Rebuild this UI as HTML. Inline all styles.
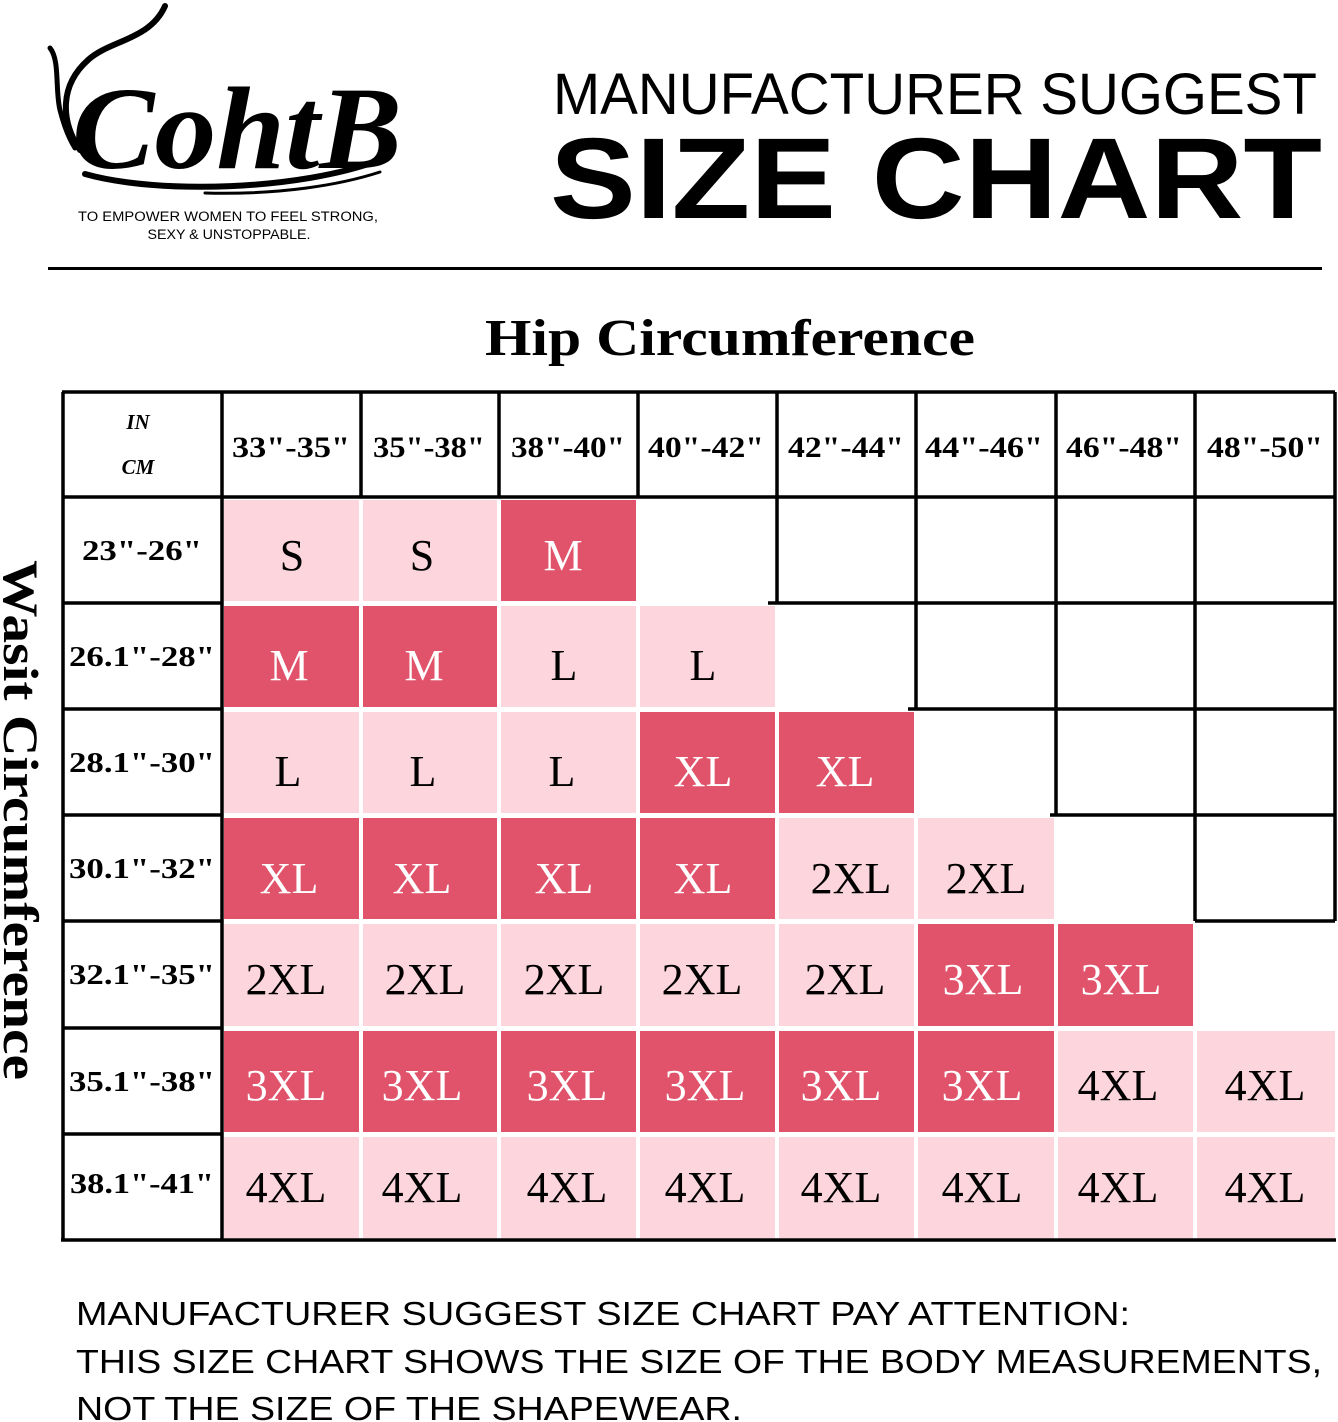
<!DOCTYPE html>
<html><head><meta charset="utf-8"><style>
html,body{margin:0;padding:0;background:#fff;}
svg{display:block;}
</style></head><body>
<svg width="1338" height="1422" viewBox="0 0 1338 1422" xmlns="http://www.w3.org/2000/svg">
<rect width="1338" height="1422" fill="#fff"/>
<!-- logo -->
<g fill="none" stroke="#000" stroke-linecap="round">
<path d="M165 6 C150 40 110 40 88 60 C60 85 60 120 80 150" stroke-width="6"/>
<path d="M50 48 C60 60 55 90 60 110 C65 130 70 140 75 148" stroke-width="5"/>
<path d="M85 174 C160 195 300 190 380 160" stroke-width="6"/>
<path d="M205 193 C280 195 340 185 380 172" stroke-width="3"/>
</g>
<text x="72" y="168" font-family="Liberation Serif, serif" font-style="italic" font-weight="bold" font-size="118" textLength="330" lengthAdjust="spacingAndGlyphs">CohtB</text>
<text x="228" y="221" text-anchor="middle" font-family="Liberation Sans, sans-serif" font-size="13.5" textLength="300" lengthAdjust="spacingAndGlyphs">TO EMPOWER WOMEN TO FEEL STRONG,</text>
<text x="229" y="239" text-anchor="middle" font-family="Liberation Sans, sans-serif" font-size="13.5" textLength="163" lengthAdjust="spacingAndGlyphs">SEXY &amp; UNSTOPPABLE.</text>
<!-- title -->
<text x="553" y="114" font-family="Liberation Sans, sans-serif" font-size="58" textLength="764" lengthAdjust="spacingAndGlyphs">MANUFACTURER SUGGEST</text>
<text x="550" y="218" font-family="Liberation Sans, sans-serif" font-weight="bold" font-size="115" textLength="772" lengthAdjust="spacingAndGlyphs">SIZE CHART</text>
<rect x="48" y="267" width="1274" height="3" fill="#000"/>
<text x="730" y="355" text-anchor="middle" font-family="Liberation Serif, serif" font-weight="bold" font-size="52" textLength="490" lengthAdjust="spacingAndGlyphs">Hip Circumference</text>
<text transform="translate(4,820) rotate(90)" text-anchor="middle" font-family="Liberation Serif, serif" font-weight="bold" font-size="50" textLength="520" lengthAdjust="spacingAndGlyphs">Wasit Circumference</text>

<!-- colored cells -->
<g>
<rect x="224" y="500" width="135" height="101" fill="#fdd6dd"/>
<rect x="363" y="500" width="134" height="101" fill="#fdd6dd"/>
<rect x="501" y="500" width="135" height="101" fill="#e0536b"/>

<rect x="224" y="606" width="135" height="101" fill="#e0536b"/>
<rect x="363" y="606" width="134" height="101" fill="#e0536b"/>
<rect x="501" y="606" width="135" height="101" fill="#fdd6dd"/>
<rect x="640" y="606" width="135" height="101" fill="#fdd6dd"/>

<rect x="224" y="712" width="135" height="101" fill="#fdd6dd"/>
<rect x="363" y="712" width="134" height="101" fill="#fdd6dd"/>
<rect x="501" y="712" width="135" height="101" fill="#fdd6dd"/>
<rect x="640" y="712" width="135" height="101" fill="#e0536b"/>
<rect x="779" y="712" width="135" height="101" fill="#e0536b"/>

<rect x="224" y="818" width="135" height="101" fill="#e0536b"/>
<rect x="363" y="818" width="134" height="101" fill="#e0536b"/>
<rect x="501" y="818" width="135" height="101" fill="#e0536b"/>
<rect x="640" y="818" width="135" height="101" fill="#e0536b"/>
<rect x="779" y="818" width="135" height="101" fill="#fdd6dd"/>
<rect x="918" y="818" width="136" height="101" fill="#fdd6dd"/>

<rect x="224" y="924" width="135" height="102" fill="#fdd6dd"/>
<rect x="363" y="924" width="134" height="102" fill="#fdd6dd"/>
<rect x="501" y="924" width="135" height="102" fill="#fdd6dd"/>
<rect x="640" y="924" width="135" height="102" fill="#fdd6dd"/>
<rect x="779" y="924" width="135" height="102" fill="#fdd6dd"/>
<rect x="918" y="924" width="136" height="102" fill="#e0536b"/>
<rect x="1058" y="924" width="135" height="102" fill="#e0536b"/>

<rect x="224" y="1031" width="135" height="101" fill="#e0536b"/>
<rect x="363" y="1031" width="134" height="101" fill="#e0536b"/>
<rect x="501" y="1031" width="135" height="101" fill="#e0536b"/>
<rect x="640" y="1031" width="135" height="101" fill="#e0536b"/>
<rect x="779" y="1031" width="135" height="101" fill="#e0536b"/>
<rect x="918" y="1031" width="136" height="101" fill="#e0536b"/>
<rect x="1058" y="1031" width="135" height="101" fill="#fdd6dd"/>
<rect x="1197" y="1031" width="138" height="101" fill="#fdd6dd"/>

<rect x="224" y="1137" width="135" height="101" fill="#fdd6dd"/>
<rect x="363" y="1137" width="134" height="101" fill="#fdd6dd"/>
<rect x="501" y="1137" width="135" height="101" fill="#fdd6dd"/>
<rect x="640" y="1137" width="135" height="101" fill="#fdd6dd"/>
<rect x="779" y="1137" width="135" height="101" fill="#fdd6dd"/>
<rect x="918" y="1137" width="136" height="101" fill="#fdd6dd"/>
<rect x="1058" y="1137" width="135" height="101" fill="#fdd6dd"/>
<rect x="1197" y="1137" width="138" height="101" fill="#fdd6dd"/>
</g>

<!-- lines -->
<g stroke="#000" stroke-width="3.5" fill="none">
<path d="M63 392 V1240 M62 392 H1335 M1335 392 V921 M222 392 V1240 M62 497 H1335 M61 1240 H1336"/>
<path d="M361 392 V497 M499 392 V497 M638 392 V497 M777 392 V603 M916 392 V709 M1056 392 V815 M1195 392 V921"/>
<path d="M62 603 H222 M62 709 H222 M62 815 H222 M62 921 H222 M62 1028 H222 M62 1134 H222"/>
<path d="M768 603 H1335 M908 709 H1335 M1050 815 H1335 M1195 921 H1335"/>
</g>

<!-- header texts -->
<g font-family="Liberation Serif, serif" font-weight="bold" fill="#000">
<text x="138" y="429" text-anchor="middle" font-style="italic" font-size="21">IN</text>
<text x="138" y="474" text-anchor="middle" font-style="italic" font-size="21">CM</text>
<g font-size="30" text-anchor="middle">
<text x="291" y="457" textLength="118" lengthAdjust="spacingAndGlyphs">33"-35"</text>
<text x="429" y="457" textLength="112" lengthAdjust="spacingAndGlyphs">35"-38"</text>
<text x="568" y="457" textLength="114" lengthAdjust="spacingAndGlyphs">38"-40"</text>
<text x="706" y="457" textLength="116" lengthAdjust="spacingAndGlyphs">40"-42"</text>
<text x="846" y="457" textLength="116" lengthAdjust="spacingAndGlyphs">42"-44"</text>
<text x="984" y="457" textLength="118" lengthAdjust="spacingAndGlyphs">44"-46"</text>
<text x="1124" y="457" textLength="116" lengthAdjust="spacingAndGlyphs">46"-48"</text>
<text x="1265" y="457" textLength="116" lengthAdjust="spacingAndGlyphs">48"-50"</text>
</g>
<g font-size="29" text-anchor="middle">
<text x="142" y="560" textLength="120" lengthAdjust="spacingAndGlyphs">23"-26"</text>
<text x="142" y="666" textLength="146" lengthAdjust="spacingAndGlyphs">26.1"-28"</text>
<text x="142" y="772" textLength="146" lengthAdjust="spacingAndGlyphs">28.1"-30"</text>
<text x="142" y="878" textLength="146" lengthAdjust="spacingAndGlyphs">30.1"-32"</text>
<text x="142" y="984" textLength="146" lengthAdjust="spacingAndGlyphs">32.1"-35"</text>
<text x="142" y="1091" textLength="146" lengthAdjust="spacingAndGlyphs">35.1"-38"</text>
<text x="142" y="1193" textLength="144" lengthAdjust="spacingAndGlyphs">38.1"-41"</text>
</g>
</g>

<!-- sizes -->
<g font-family="Liberation Serif, serif" font-size="44" text-anchor="middle">
<text x="292" y="570">S</text><text x="422" y="570">S</text><text x="563" y="570" fill="#fff">M</text>
<text x="289" y="680" fill="#fff">M</text><text x="424" y="680" fill="#fff">M</text><text x="564" y="680">L</text><text x="703" y="680">L</text>
<text x="288" y="786">L</text><text x="423" y="786">L</text><text x="562" y="786">L</text><text x="703" y="786" fill="#fff">XL</text><text x="845" y="786" fill="#fff">XL</text>
<text x="289" y="893" fill="#fff">XL</text><text x="422" y="893" fill="#fff">XL</text><text x="564" y="893" fill="#fff">XL</text><text x="703" y="893" fill="#fff">XL</text><text x="851" y="893">2XL</text><text x="986" y="893">2XL</text>
<text x="286" y="994">2XL</text><text x="425" y="994">2XL</text><text x="564" y="994">2XL</text><text x="702" y="994">2XL</text><text x="845" y="994">2XL</text><text x="983" y="994" fill="#fff">3XL</text><text x="1121" y="994" fill="#fff">3XL</text>
<text x="286" y="1100" fill="#fff">3XL</text><text x="422" y="1100" fill="#fff">3XL</text><text x="567" y="1100" fill="#fff">3XL</text><text x="705" y="1100" fill="#fff">3XL</text><text x="841" y="1100" fill="#fff">3XL</text><text x="982" y="1100" fill="#fff">3XL</text><text x="1118" y="1100">4XL</text><text x="1265" y="1100">4XL</text>
<text x="286" y="1202">4XL</text><text x="422" y="1202">4XL</text><text x="567" y="1202">4XL</text><text x="705" y="1202">4XL</text><text x="841" y="1202">4XL</text><text x="982" y="1202">4XL</text><text x="1118" y="1202">4XL</text><text x="1265" y="1202">4XL</text>
</g>

<!-- footer -->
<g font-family="Liberation Sans, sans-serif" font-size="33" fill="#000">
<text x="76" y="1325" textLength="1054" lengthAdjust="spacingAndGlyphs">MANUFACTURER SUGGEST SIZE CHART PAY ATTENTION:</text>
<text x="76" y="1373" textLength="1246" lengthAdjust="spacingAndGlyphs">THIS SIZE CHART SHOWS THE SIZE OF THE BODY MEASUREMENTS,</text>
<text x="76" y="1420" textLength="666" lengthAdjust="spacingAndGlyphs">NOT THE SIZE OF THE SHAPEWEAR.</text>
</g>
</svg>
</body></html>
